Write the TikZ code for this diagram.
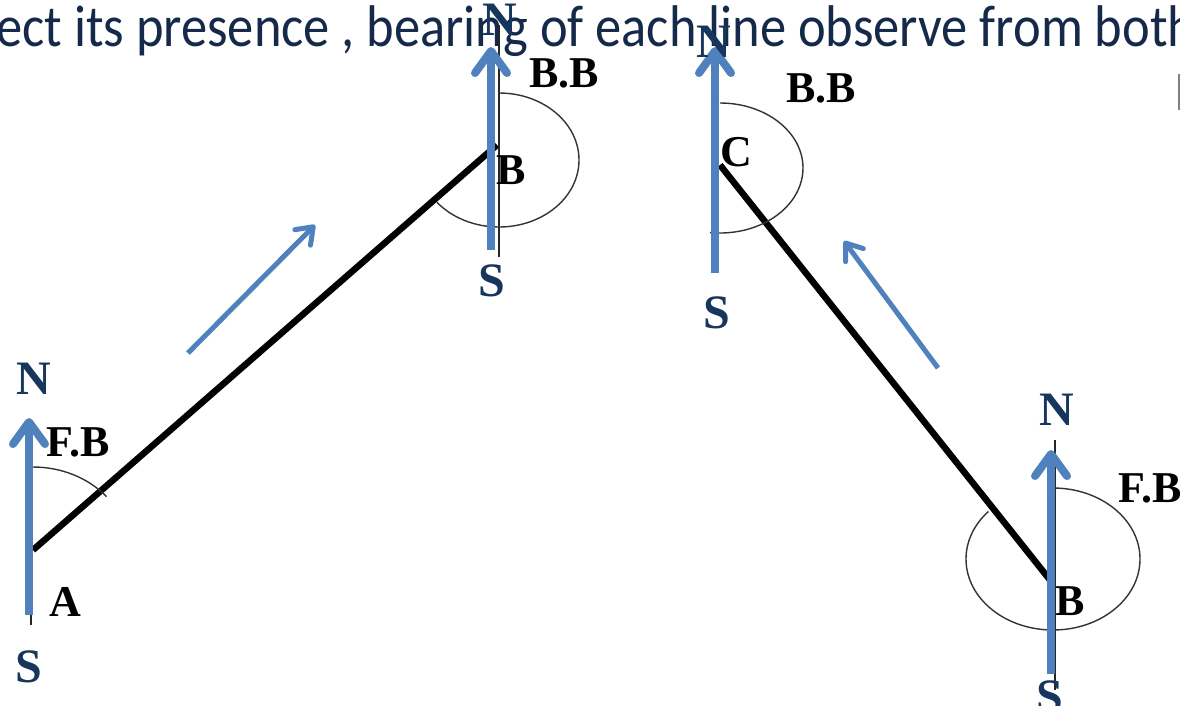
\documentclass[tikz,border=0pt]{standalone}
\usepackage{fontspec}
\usetikzlibrary{arrows.meta}
\newfontfamily\headfont{Carlito}
\newfontfamily\lblfont{Liberation Serif}
\definecolor{arrowblue}{HTML}{4F81BD}
\definecolor{navy}{HTML}{17365D}
\definecolor{headnavy}{HTML}{15294A}
\begin{document}
\begin{tikzpicture}[x=1pt,y=-1pt,
  bearingline/.style={line width=6.5pt, black},
  thinline/.style={line width=1.5pt, black!85},
  arcline/.style={line width=1.4pt, black!80},
  northarrow/.style={line width=8pt, arrowblue, -{Straight Barb[length=22pt,width=32pt,round]}},
  dirarrow/.style={line width=5pt, arrowblue, -{Straight Barb[length=15pt,width=22pt,round]}},
  lbl/.style={font=\lblfont\bfseries\fontsize{44}{44}\selectfont, inner sep=0pt},
  nslbl/.style={lbl, font=\lblfont\bfseries\fontsize{48}{48}\selectfont, text=navy},
]
\useasboundingbox (0,0) rectangle (1180,705);
\fill[white] (0,0) rectangle (1180,705);

% heading
\node[anchor=base west, inner sep=0pt, text=headnavy, yscale=1.12, font=\headfont\fontsize{52.5}{52.5}\selectfont] (title) at (-4,46) {ect its presence , bearing of each line observe from both};
\draw[gray, line width=2pt] (1179,74) -- (1179,110);

% station vertices
\coordinate (A) at (33,550);
\coordinate (B1) at (497,145);
\coordinate (C) at (720,165);
\coordinate (B2) at (1050,580);

% survey lines
\draw[bearingline] (A) -- (B1);
\draw[bearingline] (C) -- (B2);

% thin meridian lines
\coordinate (mAt) at (31,420); \coordinate (mAb) at (31,625);
\coordinate (mBt) at (499,25); \coordinate (mBb) at (499,257);
\coordinate (mRt) at (1055,440); \coordinate (mRb) at (1055,690);
\draw[thinline] (mAt) -- (mAb);
\draw[thinline] (mBt) -- (mBb);
\draw[thinline] (mRt) -- (mRb);

% bearing arcs
\coordinate (cA) at (33,550);
\coordinate (cB1) at (499,160);
\coordinate (cC) at (720,168);
\coordinate (cB2) at (1053,559);
\draw[arcline] (cA) ++(-90:96 and 83) arc[start angle=-90, end angle=-40, x radius=96, y radius=83];
\draw[arcline] (cB1) ++(-90:80 and 67) arc[start angle=-90, end angle=141, x radius=80, y radius=67];
\draw[arcline] (cC) ++(-90:83 and 65) arc[start angle=-90, end angle=97, x radius=83, y radius=65];
\draw[arcline] (cB2) ++(-90:87 and 71) arc[start angle=-90, end angle=222, x radius=87, y radius=71];

% north arrows
\coordinate (nAb) at (29,615); \coordinate (nAt) at (29,418);
\coordinate (nBb) at (491,250); \coordinate (nBt) at (491,47);
\coordinate (nCb) at (715,273); \coordinate (nCt) at (715,47);
\coordinate (nRb) at (1051,674); \coordinate (nRt) at (1051,450);
\draw[northarrow] (nAb) -- (nAt);
\draw[northarrow] (nBb) -- (nBt);
\draw[northarrow] (nCb) -- (nCt);
\draw[northarrow] (nRb) -- (nRt);

% direction arrows
\coordinate (d1s) at (188,353); \coordinate (d1e) at (315,225);
\coordinate (d2s) at (938,368); \coordinate (d2e) at (844,241);
\draw[dirarrow] (d1s) -- (d1e);
\draw[dirarrow] (d2s) -- (d2e);

% labels
\node[nslbl] (NA) at (34,379) {N};
\node[nslbl] (SA) at (29,667) {S};
\node[lbl] (FBA) at (78,442) {F.B};
\node[lbl] (lA) at (65,602) {A};

\node[nslbl] (NB) at (500,20) {N};
\node[nslbl] (SB) at (492,281) {S};
\node[lbl] (BBB) at (564,73) {B.B};
\node[lbl] (lB1) at (511,170) {B};

\node[nslbl] (NC) at (714,42) {N};
\node[nslbl] (SC) at (717,313) {S};
\node[lbl] (BBC) at (821,88) {B.B};
\node[lbl] (lC) at (736,152) {C};

\node[nslbl] (NR) at (1057,410) {N};
\node[nslbl] (SR) at (1050,697) {S};
\node[lbl] (FBR) at (1150,488) {F.B};
\node[lbl] (lB2) at (1070,601) {B};
\end{tikzpicture}
\end{document}
